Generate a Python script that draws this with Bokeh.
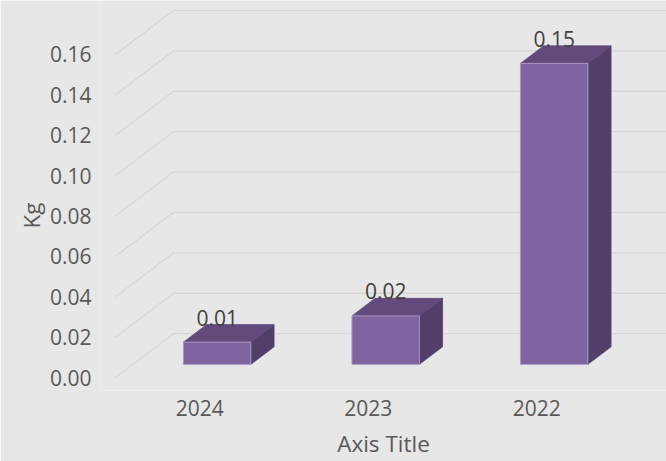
from bokeh.plotting import figure
from bokeh.models import Range1d, FixedTicker, ColumnDataSource, NumeralTickFormatter, Title
from bokeh.embed import file_html
from bokeh.resources import INLINE
from bokeh.core.properties import value

# ---------------- data ----------------
categories = ["2024", "2023", "2022"]
kg_values = [0.011, 0.024, 0.149]
y_ticks = [0.00, 0.02, 0.04, 0.06, 0.08, 0.10, 0.12, 0.14, 0.16]
x_title = "Axis Title"
y_title = "Kg"

# ---------------- layout (page pixels) ----------------
W, H = 666, 461
OX, OY = 115.0, 378.0          # front-left floor corner
SLOT_PX = 168.5                # px per category
UNIT_PX = 2025.0               # px per kg
FRAME_L, FRAME_R, FRAME_T, FRAME_B = 100, 666, 0, 391
DX = 58.0 / SLOT_PX            # full depth offset in x data units
DY = 44.0 / UNIT_PX            # full depth offset in y data units
D_FRONT, D_BACK = 0.3, 0.7     # bar depth span
HALF_W = 0.2                   # bar half width (slot units)

FONT = "Open Sans"
BG = "#e7e7e7"
GRID = "#d6d6d6"
TXT = "#595959"
FRONT_C, TOP_C, SIDE_C = "#8064a2", "#624b7c", "#513f6a"
EDGE_C = "#a898c2"

p = figure(
    width=W, height=H, output_backend="svg", toolbar_location=None,
    x_range=Range1d((FRAME_L - OX) / SLOT_PX, (FRAME_R - OX) / SLOT_PX),
    y_range=Range1d(-(FRAME_B - OY) / UNIT_PX, (OY - FRAME_T) / UNIT_PX),
    min_border_left=FRAME_L, min_border_right=W - FRAME_R, min_border_top=FRAME_T,
    min_border_bottom=H - FRAME_B,
)
p.background_fill_color = BG
p.background_fill_alpha = 1.0
p.border_fill_color = BG
p.border_fill_alpha = 1.0
p.outline_line_color = None
p.grid.visible = False

# ---- axes ----
yax = p.yaxis[0]
yax.ticker = FixedTicker(ticks=y_ticks)
yax.formatter = NumeralTickFormatter(format="0.00")
yax.axis_line_color = None
yax.major_tick_line_color = None
yax.minor_tick_line_color = None
yax.major_label_standoff = 3
yax.major_label_text_font = FONT
yax.major_label_text_font_size = "21px"
yax.major_label_text_color = TXT

xax = p.xaxis[0]
xcent = [i + 0.5 for i in range(len(categories))]
xax.ticker = FixedTicker(ticks=xcent)
xax.major_label_overrides = {c: cat for c, cat in zip(xcent, categories)}
xax.axis_line_color = None
xax.major_tick_line_color = None
xax.minor_tick_line_color = None
xax.major_label_standoff = 3
xax.major_label_text_font = FONT
xax.major_label_text_font_size = "21px"
xax.major_label_text_color = TXT
xax.axis_label = x_title
xax.axis_label_standoff = 9
xax.axis_label_text_font = FONT
xax.axis_label_text_font_size = "22.5px"
xax.axis_label_text_font_style = "normal"
xax.axis_label_text_color = TXT

# ---- y title (vertical, on the left) ----
p.add_layout(Title(text=y_title, align="left", offset=FRAME_B - 229, standoff=0,
                   text_font=FONT, text_font_size="22.5px", text_font_style="normal",
                   text_color=TXT), "left")

# ---- gridlines: left wall diagonals + back wall horizontals ----
x_end = (FRAME_R - OX) / SLOT_PX + 0.1
g_xs, g_ys = [], []
for t in y_ticks:
    g_xs.append([0.0, DX, x_end])
    g_ys.append([t, t + DY, t + DY])
p.multi_line(g_xs, g_ys, line_color=GRID, line_width=1.3)

# ---- 3D bars ----
front_xs, front_ys, top_xs, top_ys, side_xs, side_ys = [], [], [], [], [], []
lab_x, lab_y, lab_t = [], [], []
for i, v in enumerate(kg_values):
    c = i + 0.5
    l0, r0 = c - HALF_W + D_FRONT * DX, c + HALF_W + D_FRONT * DX
    l1, r1 = c - HALF_W + D_BACK * DX, c + HALF_W + D_BACK * DX
    b0, b1 = D_FRONT * DY, D_BACK * DY
    t0, t1 = v + D_FRONT * DY, v + D_BACK * DY
    front_xs.append([l0, r0, r0, l0]); front_ys.append([b0, b0, t0, t0])
    top_xs.append([l0, r0, r1, l1]);   top_ys.append([t0, t0, t1, t1])
    side_xs.append([r0, r1, r1, r0]);  side_ys.append([b0, b1, t1, t0])
    lab_x.append(c + D_FRONT * DX); lab_y.append(t1); lab_t.append(f"{v:.2f}")

p.patches(side_xs, side_ys, fill_color=SIDE_C, line_color=SIDE_C, line_width=0.8)
p.patches(top_xs, top_ys, fill_color=TOP_C, line_color=TOP_C, line_width=0.8)
p.patches(front_xs, front_ys, fill_color=FRONT_C, line_color=EDGE_C, line_width=1)

src = ColumnDataSource(dict(x=lab_x, y=lab_y, t=lab_t))
p.text(x="x", y="y", text="t", source=src, text_font=value(FONT),
       text_font_size="21px", text_align="center", text_baseline="alphabetic",
       text_color="#404040", y_offset=-7)

open("out.html", "w").write(file_html(p, INLINE))
